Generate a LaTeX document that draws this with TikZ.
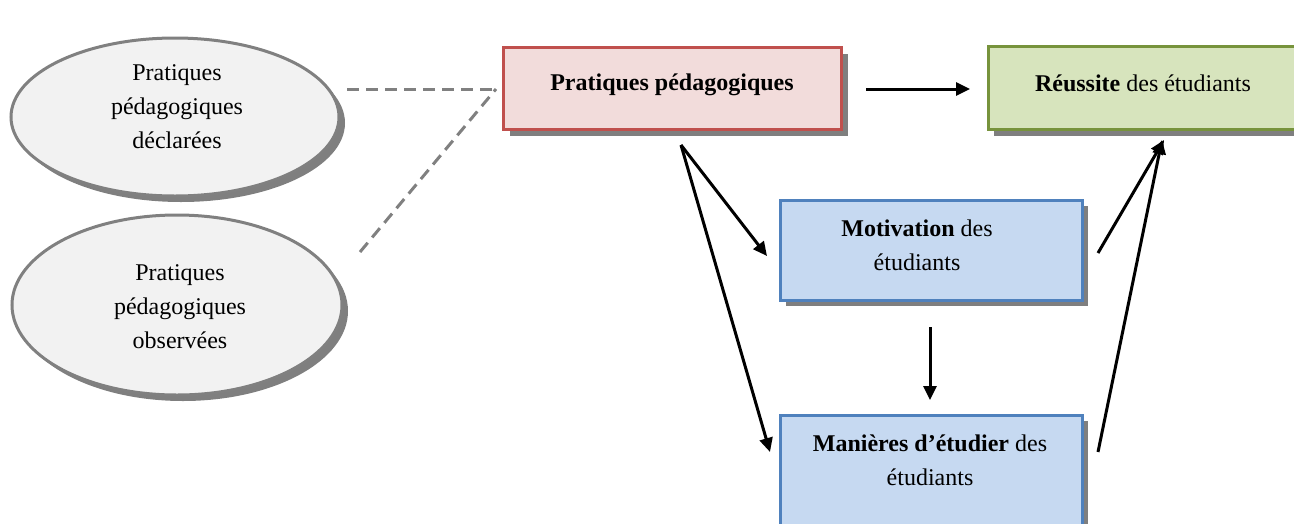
\documentclass[tikz,border=0pt]{standalone}
\usepackage{fontspec}
\setmainfont{Liberation Serif}
\usetikzlibrary{shadows,arrows.meta,shapes.geometric}
\definecolor{ellfill}{HTML}{F2F2F2}
\definecolor{elldraw}{HTML}{808080}
\definecolor{shad}{HTML}{7F7F7F}
\definecolor{redfill}{HTML}{F2DCDB}
\definecolor{reddraw}{HTML}{C0504D}
\definecolor{greenfill}{HTML}{D7E4BD}
\definecolor{greendraw}{HTML}{77933C}
\definecolor{bluefill}{HTML}{C6D9F1}
\definecolor{bluedraw}{HTML}{4F81BD}
\tikzset{
  shd/.style={general shadow={shadow xshift=6pt, shadow yshift=-6pt, fill=shad}},
  txt/.style={font=\fontsize{24}{34}\selectfont, align=center},
  ell/.style={ellipse, draw=elldraw, fill=ellfill, line width=3pt, shd, txt, inner sep=0pt},
  boxr/.style={rectangle, draw=reddraw, fill=redfill, line width=3pt, shd, txt, inner sep=0pt},
  boxg/.style={rectangle, draw=greendraw, fill=greenfill, line width=3pt, shd, txt, inner sep=0pt},
  boxb/.style={rectangle, draw=bluedraw, fill=bluefill, line width=3pt, shd, txt, inner sep=0pt},
  arr/.style={line width=3pt, -{Triangle[length=14pt,width=13pt]}},
  dsh/.style={line width=3pt, draw=elldraw, dash pattern=on 12pt off 7pt},
}
\begin{document}
\begin{tikzpicture}[x=1pt,y=-1pt]
\useasboundingbox (0,0) rectangle (1294,523);
% ellipses
\node[ell, minimum width=328pt, minimum height=158pt] (e1) at (175,117) {};
\node[txt] (t1) at (177,107) {Pratiques\\pédagogiques\\déclarées};
\node[ell, minimum width=330pt, minimum height=180pt] (e2) at (177,305) {};
\node[txt] (t2) at (180,307) {Pratiques\\pédagogiques\\observées};
% boxes
\node[boxr, minimum width=338pt, minimum height=82pt] (pp) at (672.5,88.5) {};
\node[txt] (ppt) at (672,85) {\textbf{Pratiques pédagogiques}};
\node[boxg, minimum width=320pt, minimum height=83pt] (re) at (1148,88) {};
\node[txt] (ret) at (1143,83) {\textbf{Réussite} des étudiants};
\node[boxb, minimum width=302pt, minimum height=100pt] (mo) at (931,250) {};
\node[txt] (mot) at (917,245) {\textbf{Motivation} des\\étudiants};
\node[boxb, minimum width=302pt, minimum height=130pt] (ma) at (931,480) {};
\node[txt] (mat) at (930,460) {\textbf{Manières d’étudier} des\\étudiants};
% connector anchors
\coordinate (d1a) at (347,89);
\coordinate (d2a) at (360,252);
\coordinate (d1b) at (496,89);
\coordinate (a1s) at (866,89);
\coordinate (a1e) at (970,89);
\coordinate (ps) at (681,145);
\coordinate (moin) at (767,256);
\coordinate (main) at (770,452);
\coordinate (mos) at (930,327);
\coordinate (moe) at (930,400);
\coordinate (r1s) at (1098,253);
\coordinate (r2s) at (1098,452);
\coordinate (r1e) at (1164,140);
\coordinate (r2e) at (1162,140);
\draw[dsh] (d1a) -- (d1b);
\draw[dsh] (d2a) -- (d1b);
\draw[arr] (a1s) -- (a1e);
\draw[arr] (ps) -- (moin);
\draw[arr] (ps) -- (main);
\draw[arr] (mos) -- (moe);
\draw[arr] (r1s) -- (r1e);
\draw[arr] (r2s) -- (r2e);
\end{tikzpicture}
\end{document}
